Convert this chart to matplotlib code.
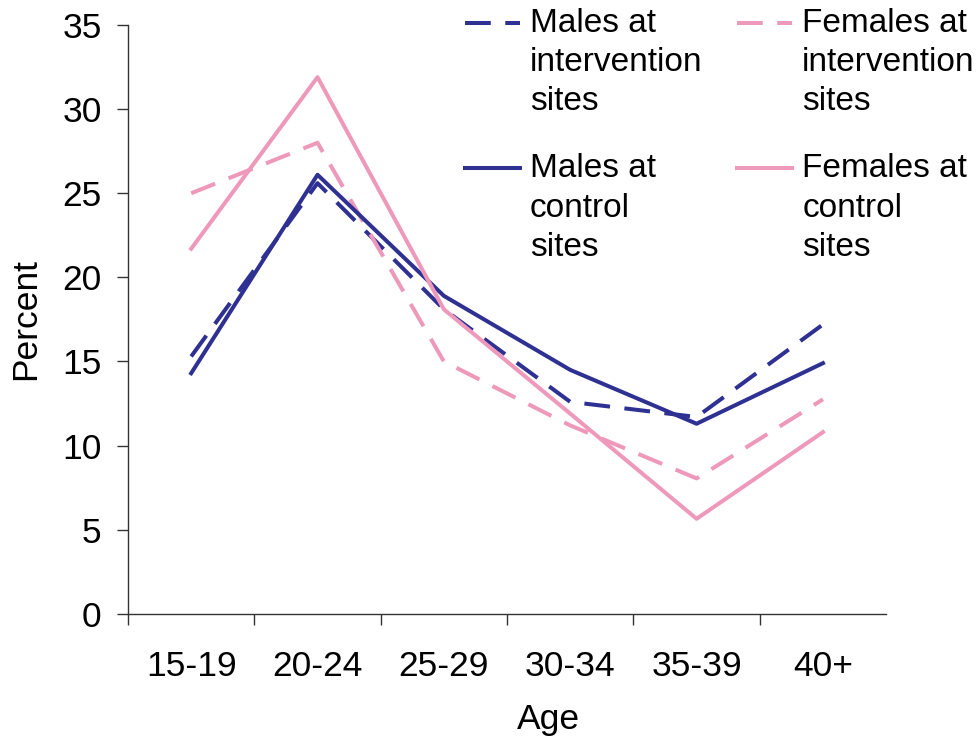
from matplotlib import pyplot as plt
from matplotlib.legend_handler import HandlerLine2D
import numpy as np

ages = ["15-19", "20-24", "25-29", "30-34", "35-39", "40+"]
males_intervention = [15.3, 25.6, 18.1, 12.6, 11.7, 17.2]
males_control = [14.3, 26.1, 18.9, 14.5, 11.3, 14.9]
females_intervention = [25.0, 28.0, 15.0, 11.2, 8.05, 12.75]
females_control = [21.7, 31.9, 18.1, 11.9, 5.65, 10.8]

BLUE = "#2E3192"
PINK = "#EE99BB"
DASH = (6.4, 3.6)
FS = 25.5


class TopHandler(HandlerLine2D):
    # put the legend line next to the first text line, not the middle one
    def __init__(self, shift=0, **kw):
        super().__init__(**kw)
        self.shift = shift

    def create_artists(self, legend, orig_handle, xdescent, ydescent,
                       width, height, fontsize, trans):
        arts = super().create_artists(legend, orig_handle, xdescent, ydescent,
                                      width, height, fontsize, trans)
        for a in arts:
            a.set_ydata(np.asarray(a.get_ydata()) + self.shift)
        return arts


plt.rcParams["font.family"] = ["Liberation Sans", "DejaVu Sans"]
fig = plt.figure(figsize=(9.77, 7.36), dpi=100)
ax = fig.add_axes([0.131, 0.166, 0.776, 0.800])

x = np.arange(len(ages)) + 0.5
l1, = ax.plot(x, males_intervention, color=BLUE, lw=2.9, dashes=DASH)
l2, = ax.plot(x, females_intervention, color=PINK, lw=2.9, dashes=DASH)
l3, = ax.plot(x, males_control, color=BLUE, lw=2.9)
l4, = ax.plot(x, females_control, color=PINK, lw=2.9)

ax.set_xlim(0, len(ages))
ax.set_ylim(0, 35)
ax.set_yticks(np.arange(0, 36, 5))
ax.set_xticks(np.arange(0, len(ages)))
ax.set_xticklabels([])
ax.set_xticks(x, minor=True)
ax.set_xticklabels(ages, minor=True)

for s in ["top", "right"]:
    ax.spines[s].set_visible(False)
for s in ["left", "bottom"]:
    ax.spines[s].set_color("#333333")
    ax.spines[s].set_linewidth(1.0)

ax.tick_params(axis="y", which="major", direction="out", length=8, width=1.0,
               color="#333333", labelsize=FS, pad=11)
ax.tick_params(axis="x", which="major", direction="out", length=8, width=1.0,
               color="#333333")
ax.tick_params(axis="x", which="minor", length=0, labelsize=FS, pad=26)

ax.set_ylabel("Percent", fontsize=FS)
ax.set_xlabel("Age", fontsize=FS)
ax.yaxis.set_label_coords(-0.113, 0.5)
ax.xaxis.set_label_coords(0.555, -0.152)

labels = ["Males at\nintervention\nsites", "Males at\ncontrol\nsites",
          "Females at\nintervention\nsites", "Females at\ncontrol\nsites"]
hm = {h: TopHandler(shift=29) for h in [l1, l2, l3, l4]}
leg = fig.legend([l1, l3, l2, l4], labels, ncol=2, loc="upper left",
                 bbox_to_anchor=(0.4535, 1.019), frameon=False, fontsize=24,
                 handlelength=1.65, handletextpad=0.3, columnspacing=1.05,
                 labelspacing=1.08, borderpad=0.15, handler_map=hm)
for t in leg.get_texts():
    t.set_linespacing(1.35)

plt.savefig("out.png", dpi=100)
plt.close()
